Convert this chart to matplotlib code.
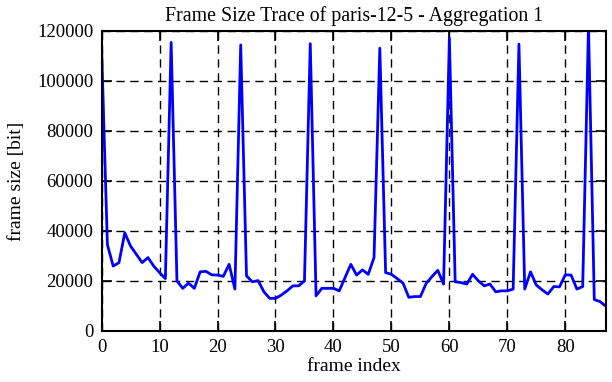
import matplotlib
matplotlib.use("Agg")
from matplotlib import pyplot as plt
import numpy as np

# frame sizes (bit), frame index 0..87
frame_size = [
    113000, 34500, 25900, 27300, 39200, 33900, 30600, 27300, 29300, 25900,
    23300, 20900, 115400, 20000, 17000, 19100, 17000, 23600, 23800, 22400,
    22300, 21800, 26600, 16700, 114400, 22000, 19600, 20100, 15600, 13000,
    13000, 14300, 16000, 18000, 18000, 20000, 114900, 14000, 17000, 17000,
    17000, 16000, 21300, 26600, 22300, 24400, 22600, 29300, 113100, 23300,
    22600, 20900, 19100, 13400, 13700, 13700, 19000, 21700, 24200, 18700,
    117100, 19600, 19300, 18700, 22600, 20000, 18000, 18700, 15600, 16000,
    16000, 16700, 114700, 16700, 23600, 18300, 16400, 14700, 17700, 17600,
    22400, 22300, 16700, 17700, 122000, 12500, 11700, 9800,
]
frame_index = np.arange(len(frame_size))

x_ticks = [0, 10, 20, 30, 40, 50, 60, 70, 80]
y_ticks = [0, 20000, 40000, 60000, 80000, 100000, 120000]

plt.rcParams['font.family'] = ['Liberation Serif', 'DejaVu Serif']

fig = plt.figure(figsize=(6.12, 3.82), dpi=100)
ax = fig.add_axes([0.166, 0.134, 0.824, 0.785])

ax.plot(frame_index, frame_size, color='#0000ff', linewidth=2)

ax.set_xlim(0, 87)
ax.set_ylim(0, 120000)
ax.set_xticks(x_ticks)
ax.set_yticks(y_ticks)
ax.tick_params(direction='in', length=7, width=1.2, top=True, right=True,
               labelsize=13.5, pad=6)
ax.grid(True, color='black', linestyle=(0, (6, 4)), linewidth=1)
for s in ax.spines.values():
    s.set_linewidth(1.5)

ax.set_title("Frame Size Trace of paris-12-5 - Aggregation 1", fontsize=14.3, pad=7)
ax.set_xlabel("frame index", fontsize=14, labelpad=1)
ax.set_ylabel("frame size [bit]", fontsize=14, labelpad=9)

plt.savefig("out.png", dpi=100)
